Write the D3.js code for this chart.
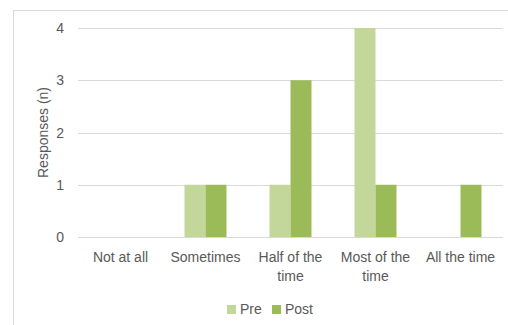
<!DOCTYPE html>
<html>
<head>
<meta charset="utf-8">
<script src="https://cdn.jsdelivr.net/npm/d3@7"></script>
<style>
  html, body { margin: 0; padding: 0; background: #fff; }
  svg { display: block; font-family: "Liberation Sans", Arial, sans-serif; }
</style>
</head>
<body>
<svg id="chart" width="508" height="325"></svg>
<script>
// Survey responses before and after, by frequency category
const categories = ["Not at all", "Sometimes", "Half of the time", "Most of the time", "All the time"];
const categoryLines = [["Not at all"], ["Sometimes"], ["Half of the", "time"], ["Most of the", "time"], ["All the time"]];
const seriesNames = ["Pre", "Post"];
const preValues = [0, 1, 1, 4, 0];
const postValues = [0, 1, 3, 1, 1];
const yTicks = [0, 1, 2, 3, 4];
const colors = ["#C4D79B", "#9BBB59"];

const svg = d3.select("#chart");
const W = 508, H = 325;
const plot = { left: 78, right: 503, top: 28, bottom: 237 };
const textColor = "#595959";

// chart frame
svg.append("rect")
  .attr("x", 13.5).attr("y", 10.5)
  .attr("width", W + 10).attr("height", H + 10)
  .attr("fill", "#fff").attr("stroke", "#d9d9d9").attr("stroke-width", 1);

const x = d3.scaleBand().domain(categories).range([plot.left, plot.right]).paddingInner(0).paddingOuter(0);
// two touching bars per category, gap between groups ~ same as both bars together
const inner = d3.scaleBand().domain(seriesNames).range([0, x.bandwidth()]).paddingInner(0).paddingOuter(43 / 42);
const y = d3.scaleLinear().domain([0, 4]).range([plot.bottom, plot.top]);

// gridlines
svg.append("g").selectAll("line").data(yTicks).join("line")
  .attr("x1", plot.left).attr("x2", plot.right)
  .attr("y1", d => Math.round(y(d)) + 0.5).attr("y2", d => Math.round(y(d)) + 0.5)
  .attr("stroke", "#d9d9d9").attr("stroke-width", 1);

// y tick labels
svg.append("g").selectAll("text").data(yTicks).join("text")
  .attr("x", 64).attr("y", d => y(d) + 5)
  .attr("text-anchor", "end")
  .attr("font-size", 14).attr("fill", textColor)
  .text(d => d);

// y axis title
svg.append("text")
  .attr("transform", `translate(48, ${(plot.top + plot.bottom) / 2}) rotate(-90)`)
  .attr("text-anchor", "middle")
  .attr("font-size", 14).attr("fill", textColor)
  .text("Responses (n)");

// bars
const rows = categories.map((c, i) => ({ cat: c, vals: [preValues[i], postValues[i]] }));
const groups = svg.append("g").selectAll("g").data(rows).join("g")
  .attr("transform", d => `translate(${x(d.cat)},0)`);
groups.selectAll("rect")
  .data(d => d.vals.map((v, j) => ({ s: seriesNames[j], v, j })).filter(e => e.v > 0))
  .join("rect")
  .attr("x", e => inner(e.s))
  .attr("width", inner.bandwidth())
  .attr("y", e => y(e.v))
  .attr("height", e => plot.bottom - y(e.v))
  .attr("fill", e => colors[e.j]);

// redraw baseline on top
svg.append("line")
  .attr("x1", plot.left).attr("x2", plot.right)
  .attr("y1", Math.round(y(0)) + 0.5).attr("y2", Math.round(y(0)) + 0.5)
  .attr("stroke", "#d9d9d9").attr("stroke-width", 1);

// category labels
const labels = svg.append("g").selectAll("text").data(categories).join("text")
  .attr("text-anchor", "middle")
  .attr("font-size", 14).attr("fill", textColor);
labels.each(function (c, i) {
  const t = d3.select(this);
  categoryLines[i].forEach((line, k) => {
    t.append("tspan")
      .attr("x", x(c) + x.bandwidth() / 2)
      .attr("y", 262 + k * 19)
      .text(line);
  });
});

// legend
const legend = svg.append("g");
const legendItems = [{ name: seriesNames[0], x: 227 }, { name: seriesNames[1], x: 272 }];
legendItems.forEach((it, j) => {
  legend.append("rect")
    .attr("x", it.x).attr("y", 305).attr("width", 9).attr("height", 9)
    .attr("fill", colors[j]);
  legend.append("text")
    .attr("x", it.x + 13).attr("y", 314)
    .attr("font-size", 14).attr("fill", textColor)
    .text(it.name);
});
</script>
</body>
</html>
